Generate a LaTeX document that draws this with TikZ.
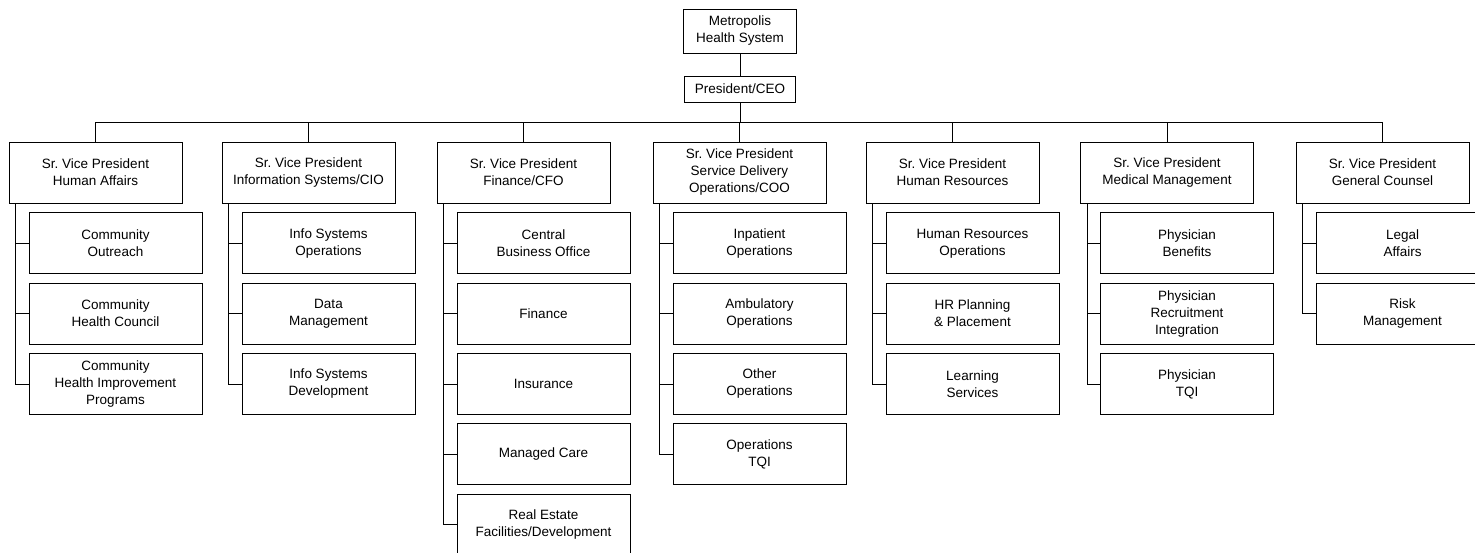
\documentclass[tikz,border=0pt]{standalone}
\usepackage{fontspec}
\setmainfont{Liberation Sans}
\usetikzlibrary{positioning}

\newcommand\orgfont{\fontsize{13.5}{17}\selectfont}
\def\vps{95.5/ha/{Human Affairs}, 308.5/is/{Information Systems/CIO}, 523.5/fi/{Finance/CFO}, 739.5/sd/{Service Delivery\\Operations/COO}, 952.5/hr/{Human Resources}, 1167/mm/{Medical Management}, 1382.5/gc/{General Counsel}}
\def\units{ha/1/{Community\\Outreach}, ha/2/{Community\\Health Council}, ha/3/{Community\\Health Improvement\\Programs},
  is/1/{Info Systems\\Operations}, is/2/{Data\\Management}, is/3/{Info Systems\\Development},
  fi/1/{Central\\Business Office}, fi/2/{Finance}, fi/3/{Insurance}, fi/4/{Managed Care}, fi/5/{Real Estate\\Facilities/Development},
  sd/1/{Inpatient\\Operations}, sd/2/{Ambulatory\\Operations}, sd/3/{Other\\Operations}, sd/4/{Operations\\TQI},
  hr/1/{Human Resources\\Operations}, hr/2/{HR Planning\\\& Placement}, hr/3/{Learning\\Services},
  mm/1/{Physician\\Benefits}, mm/2/{Physician\\Recruitment\\Integration}, mm/3/{Physician\\TQI},
  gc/1/{Legal\\Affairs}, gc/2/{Risk\\Management}}
\tikzstyle{box}=[draw, rectangle, line width=0.8pt, inner sep=2pt, align=center, font=\orgfont]
\tikzstyle{unit}=[box, minimum width=173pt, minimum height=61pt]
\tikzstyle{link}=[draw, line width=0.8pt]

\begin{document}
\begin{tikzpicture}[x=1pt, y=-1pt]
  \useasboundingbox (0,0) rectangle (1475,553);

  % Top of the chart
  \node[box, minimum width=113pt, minimum height=44pt] (mhs) at (740, 31) {Metropolis\\Health System};
  \node[box, minimum width=111pt, minimum height=26pt] (ceo) at (740, 89) {President/CEO};
  \coordinate (bus) at (740, 122);
  \path[link] (mhs) -- (ceo);
  \path[link] (ceo) -- (bus);

  % Then the vice presidents, hanging from the bus
  \foreach \cx/\name/\title in \vps {
    \node[unit] (\name) at (\cx, 172.5) {Sr.\ Vice President\\\title};
    \path[link] (\name.north) |- (bus);
  }

  % Units below each vice president
  \foreach \boss/\i/\txt in \units {
    \node[unit, anchor=north west] (\boss\i) at ([xshift=20pt, yshift={-(9+70.3*(\i-1))*1pt}]\boss.south west) {\txt};
    \path[link] ([xshift=7pt]\boss.south west) |- (\boss\i.west);
  }
\end{tikzpicture}
\end{document}
